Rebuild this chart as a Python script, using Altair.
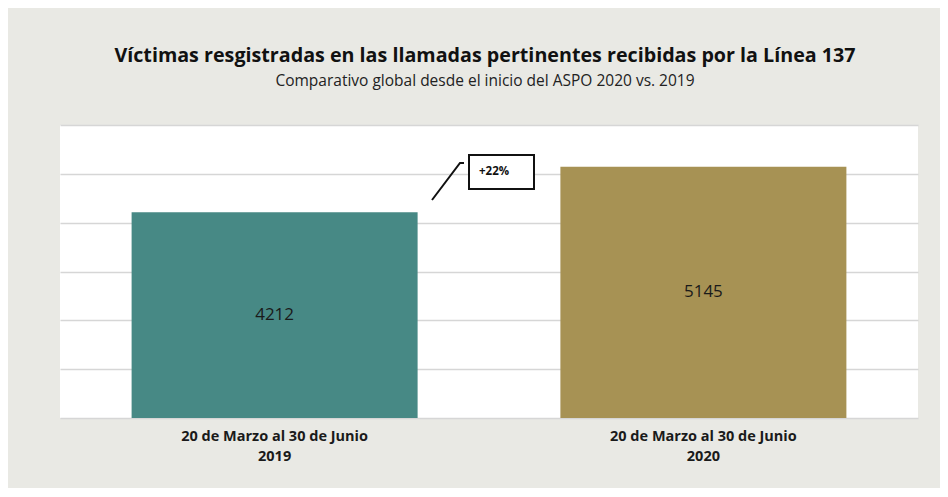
import altair as alt
import pandas as pd

periods = ["20 de Marzo al 30 de Junio|2019", "20 de Marzo al 30 de Junio|2020"]
values = [4212, 5145]
colors = ["#478985", "#a79254"]
change_label = ["+22%"]

df = pd.DataFrame({"periodo": periods, "victimas": values, "color": colors})

FONT = "Open Sans"

x_enc = alt.X(
    "periodo:N",
    sort=periods,
    title=None,
    scale=alt.Scale(paddingInner=0.333, paddingOuter=0.167),
    axis=alt.Axis(
        labelExpr="split(datum.label, '|')",
        labelAngle=0,
        labelFont=FONT,
        labelFontSize=14.5,
        labelFontWeight="bold",
        labelColor="#1a1a1a",
        labelLineHeight=20,
        labelPadding=11,
        labelLimit=0,
        ticks=False,
        domain=False,
        grid=False,
    ),
)

y_scale = alt.Scale(domain=[0, 6000], nice=False)

bars = alt.Chart(df).mark_bar().encode(
    x=x_enc,
    y=alt.Y(
        "victimas:Q",
        scale=y_scale,
        title=None,
        axis=alt.Axis(
            values=[0, 1000, 2000, 3000, 4000, 5000, 6000],
            labels=False,
            ticks=False,
            domain=False,
            grid=True,
            gridColor="#d6d6d6",
            gridWidth=1.6,
        ),
    ),
    color=alt.Color("color:N", scale=None, legend=None),
)

labels = alt.Chart(df).transform_calculate(
    mid="datum.victimas / 2"
).mark_text(font=FONT, fontSize=17, color="#1a1a1a", baseline="middle").encode(
    x=alt.X("periodo:N", sort=periods),
    y=alt.Y("mid:Q", scale=y_scale),
    text=alt.Text("victimas:Q", format="d"),
)

# callout annotation
ann_df = pd.DataFrame({"t": change_label})
callout_line = alt.Chart(pd.DataFrame({"px": [372, 400, 404], "py": [75, 38, 38], "o": [0, 1, 2]})).mark_line(
    color="#111111", strokeWidth=2
).encode(x=alt.X("px:Q", scale=None), y=alt.Y("py:Q", scale=None), order="o:O")

box = alt.Chart(ann_df).mark_rect(fill="white", stroke="#111111", strokeWidth=2).encode(
    x=alt.value(409), x2=alt.value(474), y=alt.value(30), y2=alt.value(64)
)
box_text = alt.Chart(ann_df).mark_text(
    font=FONT, fontSize=11.5, fontWeight="bold", color="#111111", align="left", baseline="middle"
).encode(x=alt.value(419), y=alt.value(47), text="t:N")

chart = (
    alt.layer(bars, labels, callout_line, box, box_text)
    .properties(
        width=858,
        height=293,
        autosize=alt.AutoSizeParams(type="none"),
        padding={"left": 52, "top": 117, "right": 22, "bottom": 70},
        background="#e9e9e4",
        title=alt.TitleParams(
            text="Víctimas resgistradas  en las llamadas pertinentes recibidas por la Línea 137",
            subtitle="Comparativo global desde el inicio del ASPO 2020 vs. 2019",
            font=FONT,
            fontSize=19.7,
            fontWeight="bold",
            color="#111111",
            subtitleFont=FONT,
            subtitleFontSize=15.5,
            subtitleColor="#222222",
            subtitlePadding=8,
            anchor="middle",
            offset=36,
            dx=-4,
        ),
    )
    .configure_view(fill="white", stroke=None)
)

chart.save("out.html", embed_options={"renderer": "svg", "actions": False})
